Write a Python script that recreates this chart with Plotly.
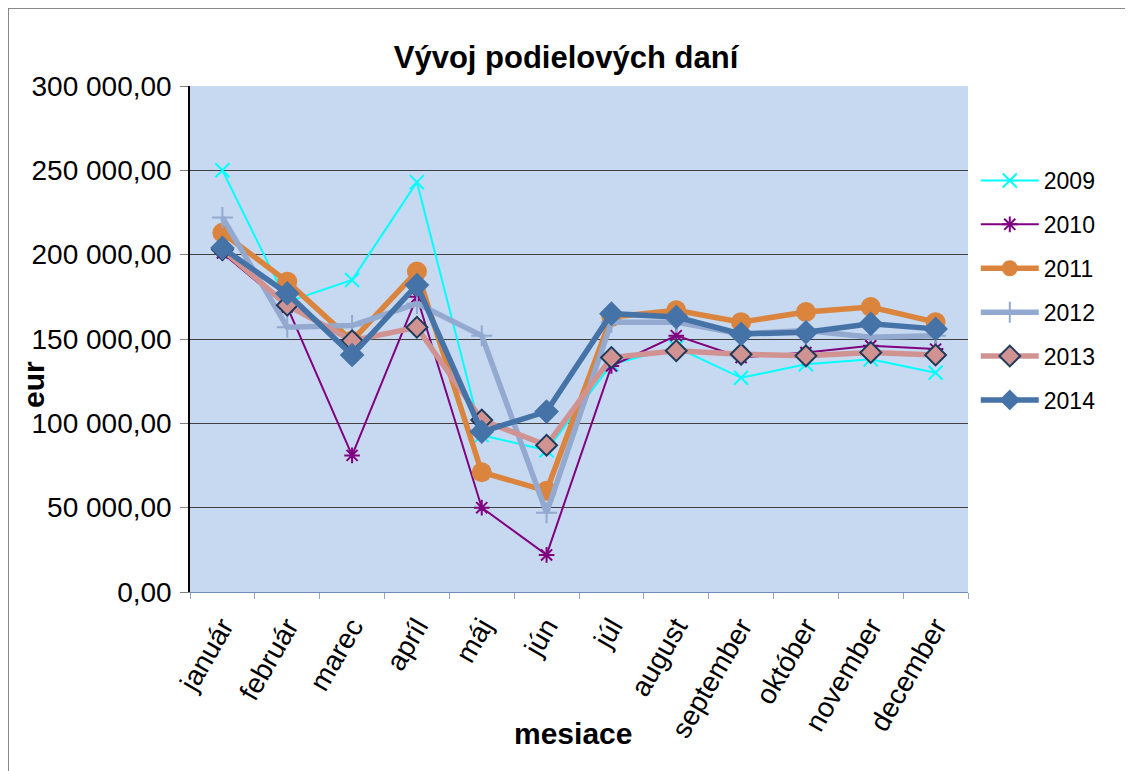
import plotly.graph_objects as go

months = ["január", "február", "marec", "apríl", "máj", "jún", "júl",
          "august", "september", "október", "november", "december"]

y2009 = [250000, 172000, 185000, 243000, 93000, 84000, 135000, 145000, 127000, 135000, 138000, 130000]
y2010 = [201000, 169000, 81000, 175000, 50000, 22000, 134000, 152000, 139000, 142000, 146000, 144000]
y2011 = [213000, 184000, 149000, 190000, 71000, 60000, 163000, 167000, 160000, 166000, 169000, 160000]
y2012 = [222000, 157000, 158000, 171000, 152000, 47000, 160000, 160000, 153000, 155000, 151000, 152000]
y2013 = [203000, 170000, 149000, 157000, 102000, 87000, 139000, 143000, 141000, 140000, 142000, 140500]
y2014 = [204000, 177000, 140500, 182000, 95000, 107000, 165000, 163000, 153000, 154000, 159000, 156000]

ytick_vals = [0, 50000, 100000, 150000, 200000, 250000, 300000]
ytick_text = ["0,00", "50 000,00", "100 000,00", "150 000,00", "200 000,00", "250 000,00", "300 000,00"]

FONT = "Liberation Sans, Arial, sans-serif"

series = [
    ("2009", y2009, dict(color="#00FFFF", width=2), dict(symbol="x-thin", size=14, line=dict(color="#00FFFF", width=2))),
    ("2010", y2010, dict(color="#800080", width=2), dict(symbol="asterisk", size=13, line=dict(color="#800080", width=2))),
    ("2011", y2011, dict(color="#DB843D", width=5.5), dict(symbol="circle", size=20, color="#DB843D")),
    ("2012", y2012, dict(color="#93A9CF", width=5.5), dict(symbol="cross-thin", size=15, line=dict(color="#93A9CF", width=2))),
    ("2013", y2013, dict(color="#D19392", width=5.5), dict(symbol="diamond", size=16, color="#D19392", line=dict(color="#1F3B5B", width=2))),
    ("2014", y2014, dict(color="#4572A7", width=5.5), dict(symbol="diamond", size=19, color="#4572A7")),
]

fig = go.Figure()
for name, ys, line, marker in series:
    fig.add_trace(go.Scatter(x=months, y=ys, name=name, mode="lines+markers",
                             line=line, marker=marker, legendgroup=name))

# figure is rendered with an 8px page offset; margins are compensated for it
ML, MR, MT, MB = 182, 173, 78, 187
PW, PH = 1133 - ML - MR, 771 - MT - MB

fig.update_layout(
    width=1133, height=771,
    paper_bgcolor="white", plot_bgcolor="#C6D9F0",
    margin=dict(l=ML, r=MR, t=MT, b=MB),
    font=dict(family=FONT, size=28, color="black"),
    title=dict(text="<b>Vývoj podielových daní</b>", x=558 / 1133, xanchor="center",
               y=1 - 49 / 771, yanchor="middle", font=dict(size=31, family=FONT)),
    showlegend=True,
    legend=dict(x=1.01, xanchor="left", y=1 - (159 - 86) / PH, yanchor="top",
                font=dict(size=23, family=FONT), tracegroupgap=11,
                bgcolor="rgba(0,0,0,0)", itemwidth=58),
    xaxis=dict(
        tickangle=-60, showgrid=False, showline=True, linecolor="#6F8DB8", linewidth=1,
        ticks="outside", ticklen=6, tickcolor="#8FA8CC", tickson="boundaries",
        ticklabelstandoff=6,
        range=[-0.5, 11.5], tickfont=dict(size=28, family=FONT),
    ),
    yaxis=dict(
        range=[0, 300000], tickvals=ytick_vals, ticktext=ytick_text,
        showgrid=True, gridcolor="#404040", gridwidth=1,
        showline=True, linecolor="black", linewidth=1.5,
        ticks="outside", ticklen=8, tickcolor="#808080", ticklabelstandoff=3,
        tickfont=dict(size=28, family=FONT), zeroline=False,
    ),
    annotations=[
        dict(text="<b>eur</b>", textangle=-90, xref="paper", yref="paper",
             x=(25 - ML) / PW, y=1 - (377 - MT) / PH, xanchor="center", yanchor="middle",
             showarrow=False, font=dict(size=30, family=FONT)),
        dict(text="<b>mesiace</b>", xref="paper", yref="paper",
             x=(565 - ML) / PW, y=-(725 - (MT + PH)) / PH, xanchor="center", yanchor="middle",
             showarrow=False, font=dict(size=30, family=FONT)),
    ],
    shapes=[
        dict(type="line", xref="paper", yref="paper", x0=-ML / PW, x1=1 + MR / PW,
             y0=1 + (MT - 0.5) / PH, y1=1 + (MT - 0.5) / PH, line=dict(color="#888888", width=1)),
        dict(type="line", xref="paper", yref="paper", x0=-(ML - 0.5) / PW, x1=-(ML - 0.5) / PW,
             y0=-MB / PH, y1=1 + MT / PH, line=dict(color="#888888", width=1)),
    ],
)

fig.write_html("out.html")
